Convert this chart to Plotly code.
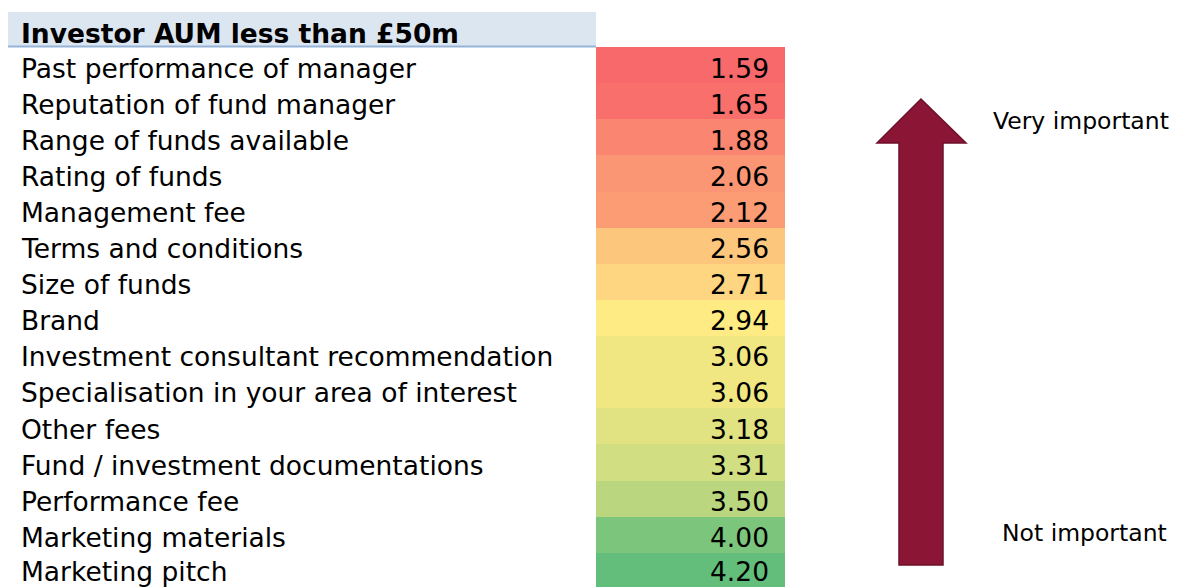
import plotly.graph_objects as go

title = "Investor AUM less than £50m"
factors = [
    "Past performance of manager",
    "Reputation of fund manager",
    "Range of funds available",
    "Rating of funds",
    "Management fee",
    "Terms and conditions",
    "Size of funds",
    "Brand",
    "Investment consultant recommendation",
    "Specialisation in your area of interest",
    "Other fees",
    "Fund / investment documentations",
    "Performance fee",
    "Marketing materials",
    "Marketing pitch",
]
scores = [1.59, 1.65, 1.88, 2.06, 2.12, 2.56, 2.71, 2.94, 3.06, 3.06, 3.18, 3.31, 3.50, 4.00, 4.20]
top_label = "Very important"
bottom_label = "Not important"

OFF = 8                      # page body margin
W, H = 1177 - OFF, 587 - OFF
ROW_TOP, ROW_H = 47, 36.1    # page pixels
FONT = "DejaVu Sans"
FS = 26.5

vmin, vmax = min(scores), max(scores)
vmid = sorted(scores)[len(scores) // 2]
mid_pos = (vmid - vmin) / (vmax - vmin)
colorscale = [[0, "#F8696B"], [mid_pos, "#FFEB84"], [1, "#63BE7B"]]

fig = go.Figure()
fig.add_trace(go.Heatmap(
    z=[[v] for v in scores],
    x=[596, 785],
    y=factors,
    colorscale=colorscale,
    zmin=vmin, zmax=vmax,
    showscale=False,
    hoverinfo="skip",
))

n = len(factors)
for i, (f, v) in enumerate(zip(factors, scores)):
    ys = -3 if i < n - 1 else -1
    fig.add_annotation(x=19, y=f, text=f, xanchor="left", yanchor="middle", yshift=ys,
                       showarrow=False, font=dict(family=FONT, size=FS, color="black"))
    fig.add_annotation(x=771, y=f, text=f"{v:.2f}", xanchor="right", yanchor="middle", yshift=ys,
                       showarrow=False, font=dict(family=FONT, size=FS, color="black"))

def py(p):
    return 1 - (p - OFF) / H

# header band
fig.add_shape(type="rect", xref="x", yref="paper", x0=8, x1=596, y0=py(46), y1=py(12),
              fillcolor="#DCE6F1", line=dict(width=0), layer="below")
fig.add_shape(type="line", xref="x", yref="paper", x0=8, x1=596, y0=py(46.5), y1=py(46.5),
              line=dict(color="#95B3D7", width=2))
fig.add_annotation(x=19, y=py(33), xref="x", yref="paper", text=f"<b>{title}</b>",
                   xanchor="left", yanchor="middle", showarrow=False,
                   font=dict(family=FONT, size=FS, color="black"))

# arrow
pts = [(899, 565), (899, 143), (877, 143), (921, 99), (966, 143), (943, 143), (943, 565)]
path = "M " + " L ".join(f"{x},{py(y)}" for x, y in pts) + " Z"
fig.add_shape(type="path", xref="x", yref="paper", path=path,
              fillcolor="#8B1535", line=dict(color="#6E1029", width=1.5))
fig.add_annotation(x=1171, y=py(121), xref="x", yref="paper", text=top_label,
                   xanchor="right", yanchor="middle", showarrow=False,
                   font=dict(family=FONT, size=23.5, color="black"))
fig.add_annotation(x=1169, y=py(533), xref="x", yref="paper", text=bottom_label,
                   xanchor="right", yanchor="middle", showarrow=False,
                   font=dict(family=FONT, size=23.5, color="black"))

c0 = (OFF - ROW_TOP - ROW_H / 2) / ROW_H
c1 = (587 - ROW_TOP - ROW_H / 2) / ROW_H
fig.update_layout(
    width=W, height=H,
    margin=dict(l=0, r=0, t=0, b=0),
    paper_bgcolor="white", plot_bgcolor="white",
    xaxis=dict(range=[OFF, OFF + W], visible=False, fixedrange=True),
    yaxis=dict(range=[c1, c0], visible=False, fixedrange=True, type="category"),
    showlegend=False,
)
fig.write_html("out.html")
